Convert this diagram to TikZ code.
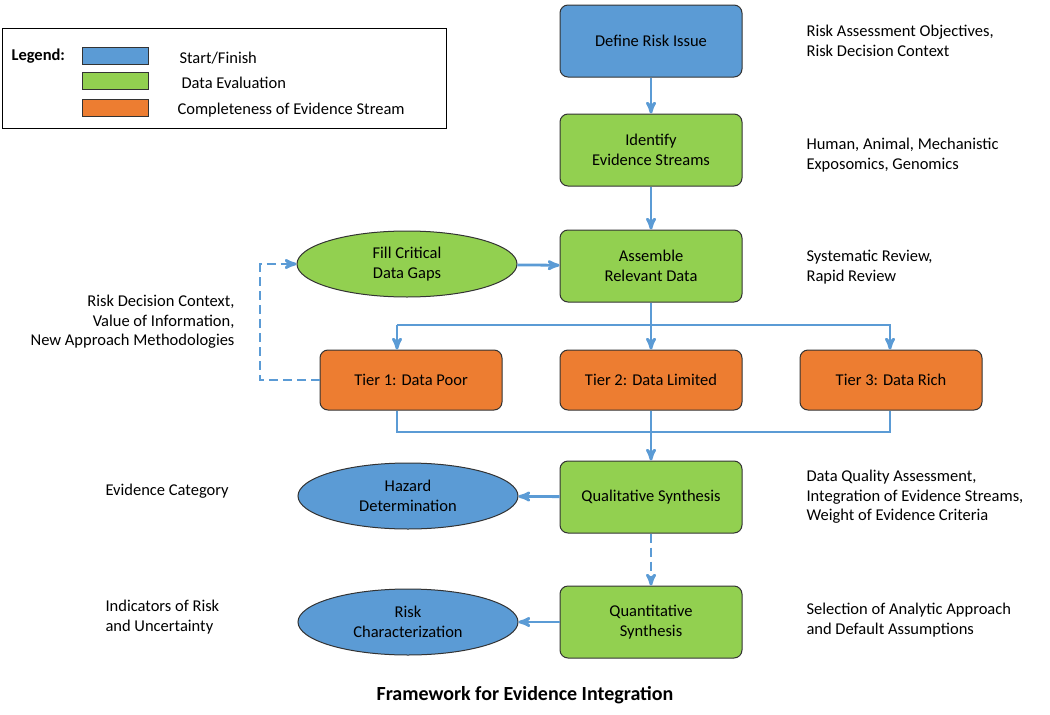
\documentclass[tikz,border=0pt]{standalone}
\usepackage{fontspec}
\setmainfont{Carlito}
\usetikzlibrary{arrows,shapes}
\definecolor{bluebox}{RGB}{91,155,213}
\definecolor{greenbox}{RGB}{146,208,80}
\definecolor{orangebox}{RGB}{237,125,49}
\definecolor{arrowblue}{RGB}{91,155,213}
\tikzset{
  box/.style={draw=black!80,rounded corners=8pt,minimum width=182pt,minimum height=72pt,align=center,font=\fontsize{16.5}{19.5}\selectfont,line width=1pt},
  tier/.style={box,fill=orangebox,minimum height=60pt},
  oval/.style={draw=black!80,ellipse,minimum width=220pt,minimum height=66pt,align=center,font=\fontsize{16.5}{19.5}\selectfont,line width=1pt},
  note/.style={align=left,font=\fontsize{16.5}{19.5}\selectfont},
  flow/.style={draw=arrowblue,line width=2.8pt,-stealth'},
  dashflow/.style={flow,dash pattern=on 9pt off 5pt},
  swatch/.style={draw=black!80,minimum width=66pt,minimum height=17pt,inner sep=0pt,line width=1pt}
}
\begin{document}
\begin{tikzpicture}[x=1pt,y=-1pt]
\useasboundingbox (0,0) rectangle (1050,715);

% legend
\draw[line width=1pt] (2,28) rectangle (446,128);
\node[anchor=west,font=\fontsize{16.5}{19.5}\selectfont\bfseries] (leg) at (8,56) {Legend:};
\node[swatch,fill=bluebox] (s1) at (115,56) {};
\node[swatch,fill=greenbox] (s2) at (115,81) {};
\node[swatch,fill=orangebox] (s3) at (115,108) {};
\node[note,anchor=west] (l1) at (176,58) {Start/Finish};
\node[note,anchor=west] (l2) at (178,83) {Data Evaluation};
\node[note,anchor=west] (l3) at (174,110) {Completeness of Evidence Stream};

% main column
\node[box,fill=bluebox] (define) at (651,41) {Define Risk Issue};
\node[box,fill=greenbox] (identify) at (651,150) {Identify\\Evidence Streams};
\node[box,fill=greenbox] (assemble) at (651,266) {Assemble\\Relevant Data};
\node[oval,fill=greenbox] (fill) at (407,264) {Fill Critical\\Data Gaps};
\node[tier] (tier1) at (411,380) {Tier 1: Data Poor};
\node[tier] (tier2) at (651,380) {Tier 2: Data Limited};
\node[tier] (tier3) at (891,380) {Tier 3: Data Rich};
\node[box,fill=greenbox] (quali) at (651,497) {Qualitative Synthesis};
\node[oval,fill=bluebox] (hazard) at (408,496) {Hazard\\Determination};
\node[box,fill=greenbox] (quanti) at (651,622) {Quantitative\\Synthesis};
\node[oval,fill=bluebox] (riskchar) at (408,622) {Risk\\Characterization};

% side notes
\node[note,anchor=west] (n1) at (803,41) {Risk Assessment Objectives,\\Risk Decision Context};
\node[note,anchor=west] (n2) at (803,155) {Human, Animal, Mechanistic\\Exposomics, Genomics};
\node[note,anchor=west] (n3) at (803,267) {Systematic Review,\\Rapid Review};
\node[note,anchor=west] (n4) at (803,497) {Data Quality Assessment,\\Integration of Evidence Streams,\\Weight of Evidence Criteria};
\node[note,anchor=west] (n5) at (803,620) {Selection of Analytic Approach\\and Default Assumptions};
\node[note,align=right,anchor=east] (n6) at (238,322) {Risk Decision Context,\\Value of Information,\\New Approach Methodologies};
\node[note,anchor=west] (n7) at (102,491) {Evidence Category};
\node[note,anchor=west] (n8) at (102,617) {Indicators of Risk\\and Uncertainty};

% title
\node[font=\fontsize{20}{24}\selectfont\bfseries] (title) at (525,695) {Framework for Evidence Integration};

% junctions
\coordinate (split) at (651,325);
\coordinate (s1t) at (397,325);
\coordinate (s3t) at (890,325);
\coordinate (m1b) at (397,432);
\coordinate (m3b) at (890,432);
\coordinate (gapL) at (260,380);
\coordinate (gapT) at (260,264);

% connectors
\draw[flow] (define) -- (identify);
\draw[flow] (identify) -- (assemble);
\draw[flow] (fill) -- (assemble);
\draw[flow,-] (assemble) -- (split);
\draw[flow] (s1t) -- (s3t) -- (s3t |- tier3.north);
\draw[flow] (s1t) -- (s1t |- tier1.north);
\draw[flow] (split) -- (tier2);
\draw[flow,-] (m1b |- tier1.south) -- (m1b) -- (m3b) -- (m3b |- tier3.south);
\draw[flow] (tier2) -- (quali);
\draw[flow] (quali) -- (hazard);
\draw[dashflow] (quali) -- (quanti);
\draw[flow] (quanti) -- (riskchar);
\draw[dashflow] (tier1) -- (gapL) -- (gapT) -- (fill);
\end{tikzpicture}
\end{document}
